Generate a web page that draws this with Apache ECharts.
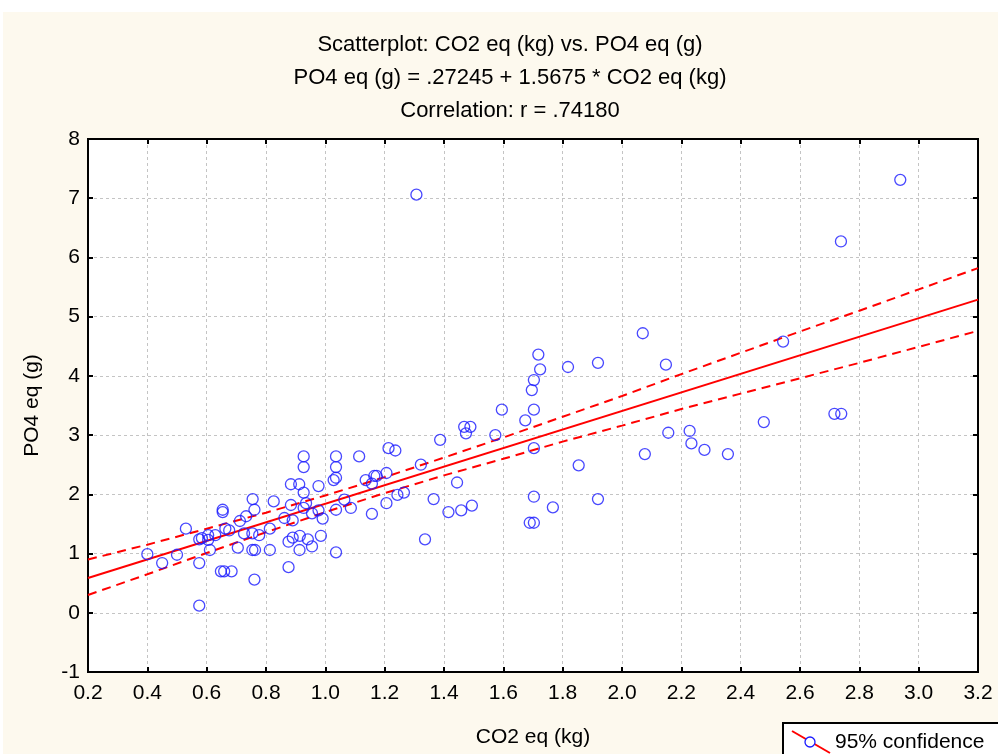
<!DOCTYPE html>
<html><head><meta charset="utf-8">
<script src="https://cdn.jsdelivr.net/npm/echarts@6/dist/echarts.min.js"></script>
<style>html,body{margin:0;padding:0;background:#fff}#c{width:998px;height:754px}</style>
</head><body><div id="c"></div>
<script>
// CO2 eq (kg) values
const co2 = [0.40,0.45,0.50,0.53,0.575,0.575,0.575,0.584,0.605,0.605,0.629,0.611,0.654,0.654,0.663,0.676,0.648,0.659,0.684,0.705,
0.712,0.733,0.726,0.755,0.761,0.754,0.754,0.763,0.777,0.761,0.813,0.813,0.826,0.862,0.890,0.884,0.876,0.876,0.890,0.914,
0.913,0.941,0.955,0.985,1.036,0.884,0.912,0.927,0.927,1.036,1.036,1.114,0.927,0.977,1.036,1.028,1.136,1.165,1.173,1.157,
1.206,1.213,1.236,1.322,0.935,0.927,0.955,0.977,1.036,1.064,1.086,0.991,1.157,1.206,1.243,1.265,1.336,1.365,1.415,1.458,
1.494,1.444,1.387,1.468,1.489,1.474,1.573,1.595,1.703,1.674,1.696,1.703,1.718,1.724,1.818,1.919,1.703,1.703,1.767,1.689,
1.703,1.854,1.919,2.070,2.148,2.077,2.156,2.228,2.234,2.278,2.357,2.478,2.543,2.716,2.739,2.738,2.938,1.307];
// PO4 eq (g) values
const po4 = [0.99,0.84,0.98,1.42,0.84,0.12,1.24,1.26,1.31,1.23,1.31,1.06,1.74,1.70,1.42,1.39,0.70,0.70,0.70,1.10,
1.55,1.63,1.34,1.92,1.74,1.34,1.06,1.06,1.31,0.56,1.42,1.06,1.88,1.60,1.56,1.82,1.20,0.77,1.27,1.30,
1.06,1.24,1.12,1.30,1.02,2.17,2.17,2.64,2.46,2.64,2.46,2.64,2.03,2.14,2.28,2.24,2.24,2.31,2.31,2.18,
2.36,2.78,2.74,2.50,1.85,1.77,1.68,1.73,1.74,1.91,1.77,1.59,1.67,1.85,1.99,2.03,1.24,1.92,1.70,1.73,
1.81,2.20,2.92,3.14,3.14,3.03,3.00,3.43,3.43,3.25,3.76,3.93,4.36,4.11,4.15,4.22,2.78,1.96,1.78,1.52,
1.52,2.49,1.92,4.72,4.19,2.68,3.04,3.07,2.86,2.75,2.68,3.22,4.58,3.36,3.36,6.27,7.31,7.06];
// fitted line (from the chart's equation)
const intercept = 0.27245, slope = 1.5675;
const fitX = [0.2, 3.2];
// 95% confidence band
const bandX     = [0.2, 0.4, 0.6, 0.8, 1.0, 1.2, 1.4, 1.6, 1.8, 2.0, 2.2, 2.4, 2.6, 2.8, 3.0, 3.2];
const bandUpper = [0.90,1.15,1.42,1.69,1.98,2.29,2.62,2.96,3.31,3.66,4.03,4.39,4.75,5.10,5.46,5.82];
const bandLower = [0.30,0.65,1.01,1.36,1.70,2.02,2.32,2.60,2.89,3.16,3.44,3.70,3.96,4.22,4.49,4.76];
const titleLines = ['Scatterplot: CO2 eq (kg) vs. PO4 eq (g)', 'PO4 eq (g) = .27245 + 1.5675 * CO2 eq (kg)', 'Correlation: r = .74180'];

const FONT = 'Liberation Sans, Arial, sans-serif';
const chart = echarts.init(document.getElementById('c'), null, {renderer: 'canvas'});
const pts = co2.map((x, i) => [x, po4[i]]);
const fit = fitX.map(x => [x, intercept + slope * x]);
const up = bandX.map((x, i) => [x, bandUpper[i]]);
const lo = bandX.map((x, i) => [x, bandLower[i]]);

const gridLine = {show: true, lineStyle: {color: '#c4c4c4', type: [3, 3], width: 1}};
const baseX = {type: 'value', min: 0.2, max: 3.2, interval: 0.2, gridIndex: 0};
const baseY = {type: 'value', min: -1, max: 8, interval: 1, gridIndex: 0};
const axLine = {show: true, onZero: false, lineStyle: {color: '#000', width: 2}};
const tick = {show: true, inside: true, length: 5, lineStyle: {color: '#000', width: 2}};

chart.setOption({
  backgroundColor: '#fff',
  animation: false,
  title: titleLines.map((t, i) => ({
    text: t, left: 505, top: 29 + i * 33, textAlign: 'center',
    textStyle: {fontFamily: FONT, fontSize: 22, fontWeight: 'normal', color: '#000'}
  })),
  graphic: [
    {type: 'rect', z: -10, shape: {x: 3, y: 12, width: 995, height: 742}, style: {fill: '#fdf9ee'}},
    {type: 'group', z: 100, children: [
      {type: 'rect', shape: {x: 783, y: 723, width: 230, height: 50}, style: {fill: '#fff', stroke: '#000', lineWidth: 2}},
      {type: 'line', shape: {x1: 792, y1: 731, x2: 830, y2: 753}, style: {stroke: '#ff0000', lineWidth: 2}},
      {type: 'circle', shape: {cx: 810, cy: 742, r: 5}, style: {fill: '#fff', stroke: '#1a1aff', lineWidth: 1.3}},
      {type: 'text', style: {x: 835, y: 742, text: '95% confidence', fontFamily: FONT, fontSize: 21, fill: '#000', verticalAlign: 'middle'}}
    ]}
  ],
  grid: {left: 88, top: 139, width: 890, height: 533, show: true, backgroundColor: '#fff', borderColor: '#000', borderWidth: 2},
  xAxis: [
    Object.assign({}, baseX, {position: 'bottom', name: 'CO2 eq (kg)', nameLocation: 'middle', nameGap: 55,
      nameTextStyle: {fontFamily: FONT, fontSize: 21, color: '#000'},
      axisLine: axLine, axisTick: tick, splitLine: gridLine,
      axisLabel: {fontFamily: FONT, fontSize: 21, color: '#000', margin: 11, formatter: v => v.toFixed(1)}}),
    Object.assign({}, baseX, {position: 'top', axisLine: axLine, axisTick: tick, splitLine: {show: false}, axisLabel: {show: false}})
  ],
  yAxis: [
    Object.assign({}, baseY, {position: 'left', name: 'PO4 eq (g)', nameLocation: 'middle', nameGap: 45,
      nameTextStyle: {fontFamily: FONT, fontSize: 21, color: '#000'},
      axisLine: axLine, axisTick: tick, splitLine: gridLine,
      axisLabel: {fontFamily: FONT, fontSize: 21, color: '#000', margin: 8, formatter: v => String(Math.round(v))}}),
    Object.assign({}, baseY, {position: 'right', axisLine: axLine, axisTick: tick, splitLine: {show: false}, axisLabel: {show: false}})
  ],
  series: [
    {name: 'Fit', type: 'line', data: fit, symbol: 'none', silent: true, z: 3,
      lineStyle: {color: '#ff0000', width: 2}},
    {name: '95% confidence', type: 'line', data: up, symbol: 'none', silent: true, z: 3,
      lineStyle: {color: '#ff0000', width: 2, type: [9, 6]}},
    {name: '95% confidence lower', type: 'line', data: lo, symbol: 'none', silent: true, z: 3,
      lineStyle: {color: '#ff0000', width: 2, type: [9, 6]}},
    {name: 'Data', type: 'scatter', data: pts, symbol: 'circle', symbolSize: 11, z: 4,
      itemStyle: {color: 'rgba(255,255,255,0)', borderColor: '#1a1aff', borderWidth: 1.3}}
  ]
});
</script></body></html>
